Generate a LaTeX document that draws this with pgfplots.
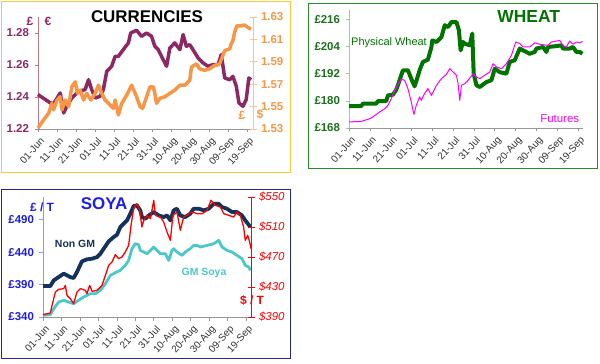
\documentclass[border=0pt]{standalone}
\usepackage{pgfplots}
\pgfplotsset{compat=1.18}
\usepackage{fontspec}
\setmainfont{Liberation Sans}
\definecolor{eur}{RGB}{140,40,100}
\definecolor{eurax}{RGB}{190,120,130}
\definecolor{usd}{RGB}{247,150,70}
\definecolor{usdax}{RGB}{250,195,150}
\definecolor{curborder}{RGB}{250,200,60}
\definecolor{whtdark}{RGB}{0,115,0}
\definecolor{whtlab}{RGB}{30,110,30}
\definecolor{whtax}{RGB}{150,210,150}
\definecolor{whtborder}{RGB}{40,140,40}
\definecolor{fut}{RGB}{255,0,255}
\definecolor{navy}{RGB}{20,50,90}
\definecolor{gmteal}{RGB}{75,200,200}
\definecolor{soyblue}{RGB}{30,30,230}
\definecolor{soyax}{RGB}{150,150,240}
\definecolor{soyborder}{RGB}{40,40,130}
\definecolor{soyred}{RGB}{255,0,0}
\definecolor{axgray}{RGB}{150,150,150}
\definecolor{labgray}{RGB}{50,50,50}
\pgfplotsset{
  dates/.style={
    scale only axis, anchor=south west, xmin=0,
    xtick={0,10,...,110},
    xticklabels={01-Jun,11-Jun,21-Jun,01-Jul,11-Jul,21-Jul,31-Jul,10-Aug,20-Aug,30-Aug,09-Sep,19-Sep},
    xticklabel style={rotate=48, anchor=north east, font=\fontsize{10}{11}\selectfont, text=labgray, inner sep=1pt, yshift=-3bp, xshift=-1bp},
    axis x line*=bottom, axis y line*=left,
    axis line style={-},
    x axis line style={axgray},
    xtick style={axgray, line width=0.6bp},
    major tick length=3.5bp,
    tick align=outside,
    clip=false,
  },
  rightax/.style={
    scale only axis, anchor=south west, xmin=0,
    hide x axis, axis y line*=right,
    axis line style={-},
    tick align=center, major tick length=7bp,
    clip=false,
  },
}
\begin{document}
\begin{tikzpicture}[x=1bp,y=1bp]
\useasboundingbox (0,0) rectangle (600,363);
\fill[white] (0,0) rectangle (600,363);
% panel borders
\draw[curborder, line width=1bp] (1.5,191) rectangle (290.5,361.5);
\draw[whtborder, line width=1bp] (308,194.7) rectangle (597.7,359);
\draw[soyborder, line width=1bp] (1.5,4.7) rectangle (290,173.5);

% ================= CURRENCIES =================
\begin{axis}[dates, at={(38bp,234bp)}, width=215bp, height=112bp,
  xmax=113.2, ymin=1.22, ymax=1.29,
  ytick={1.22,1.24,1.26,1.28}, yticklabels={1.22,1.24,1.26,1.28},
  y axis line style={eurax}, ytick style={eurax, line width=0.6bp},
  yticklabel style={font=\fontsize{11.5}{12}\selectfont\bfseries, text=eur, xshift=-2bp},
]
\addplot[eur, line width=3.5bp, line join=round] coordinates {
(0,1.2415)(6.5,1.2363)(8.2,1.2358)(11.7,1.2425)(13.5,1.2300)(15.2,1.2342)(17.8,1.2394)(21.3,1.2435)(24.8,1.2446)(26.6,1.2508)(28.3,1.2446)(30.1,1.2394)(32.7,1.2404)(34.4,1.2446)(36.2,1.2560)(38.8,1.2592)(40.6,1.2654)(42.3,1.2654)(44.9,1.2696)(47.6,1.2738)(48.8,1.2800)(51.9,1.2817)(54.5,1.2779)(57.2,1.2800)(59.8,1.2779)(61.5,1.2717)(63.3,1.2696)(65.9,1.2633)(67.7,1.2592)(69.4,1.2706)(72.0,1.2738)(74.7,1.2696)(76.4,1.2790)(78.1,1.2717)(79.9,1.2727)(81.6,1.2696)(84.3,1.2644)(86.9,1.2613)(89.5,1.2592)(92.1,1.2602)(94.8,1.2602)(96.5,1.2665)(98.3,1.2519)(100.9,1.2508)(102.6,1.2529)(104.4,1.2467)(105.8,1.2363)(107.9,1.2342)(109.6,1.2383)(111.0,1.2519)(112.2,1.2508)
};
\end{axis}
\begin{axis}[rightax, at={(38bp,234bp)}, width=215bp, height=112bp,
  xmax=113.2, ymin=1.53, ymax=1.63,
  ytick={1.53,1.55,1.57,1.59,1.61,1.63}, yticklabels={1.53,1.55,1.57,1.59,1.61,1.63},
  y axis line style={usdax}, ytick style={usdax, line width=0.6bp},
  yticklabel style={font=\fontsize{11.5}{12}\selectfont\bfseries, text=usd, xshift=1bp},
]
\addplot[usd, line width=3.5bp, line join=round] coordinates {
(0,1.5309)(3.0,1.5382)(5.6,1.5441)(7.3,1.5529)(8.2,1.5471)(10.0,1.5559)(11.7,1.5588)(12.6,1.5471)(14.3,1.5559)(16.1,1.5500)(17.8,1.5676)(19.6,1.5721)(20.8,1.5618)(22.2,1.5647)(24.0,1.5559)(25.7,1.5618)(27.8,1.5559)(30.1,1.5618)(31.8,1.5691)(33.6,1.5618)(35.3,1.5559)(37.9,1.5515)(39.7,1.5485)(40.6,1.5559)(42.3,1.5426)(44.1,1.5529)(46.7,1.5603)(49.3,1.5691)(51.9,1.5588)(53.7,1.5500)(55.1,1.5485)(57.2,1.5588)(58.9,1.5676)(60.7,1.5676)(61.5,1.5618)(62.4,1.5529)(64.2,1.5574)(66.8,1.5588)(69.4,1.5618)(72.0,1.5647)(74.7,1.5691)(77.3,1.5691)(79.9,1.5735)(80.8,1.5853)(83.4,1.5882)(85.1,1.5838)(87.8,1.5824)(90.4,1.5838)(93.0,1.5868)(95.6,1.5882)(97.0,1.5941)(98.3,1.6000)(100.9,1.6015)(101.7,1.6059)(102.6,1.6088)(103.5,1.6162)(104.7,1.6221)(107.0,1.6221)(108.7,1.6229)(110.5,1.6206)(112.2,1.6191)
};
\end{axis}
\node[font=\fontsize{17}{18}\selectfont\bfseries] at (147,346.2) {CURRENCIES};
\node[font=\fontsize{12}{12}\selectfont\bfseries, text=eur] at (30,342) {£};
\node[font=\fontsize{12}{12}\selectfont\bfseries, text=eur] at (48,342) {€};
\node[font=\fontsize{12}{12}\selectfont\bfseries, text=usd] at (242,248) {£};
\node[font=\fontsize{12}{12}\selectfont\bfseries, text=usd] at (260,248) {\$};

% ================= WHEAT =================
\begin{axis}[dates, at={(349bp,235bp)}, width=234bp, height=117.7bp,
  xmax=112.4, ymin=168, ymax=220,
  ytick={168,180,192,204,216}, yticklabels={£168,£180,£192,£204,£216},
  y axis line style={whtax}, ytick style={whtax, line width=0.6bp},
  yticklabel style={font=\fontsize{11.5}{12}\selectfont\bfseries, text=whtlab, xshift=-2bp},
]
\addplot[whtdark, line width=4bp, line join=round] coordinates {
(0,177.7)(5.9,177.7)(6.7,178.8)(13.1,178.8)(13.9,179.9)(17.9,179.9)(18.7,182.4)(21.1,182.7)(22.7,184.9)(24.3,189.1)(25.9,193.5)(28.3,193.5)(29.9,189.8)(31.5,186.4)(32.7,189.8)(33.9,193.5)(35.5,197.2)(37.9,198.2)(39.6,203.8)(40.0,206.7)(42.0,206.0)(44.4,208.2)(46.0,213.4)(47.6,212.6)(49.2,214.8)(51.6,214.8)(52.8,211.2)(53.6,202.3)(54.8,206.0)(55.6,205.3)(58.0,204.5)(59.2,209.7)(59.9,192.0)(61.2,186.9)(62.8,186.1)(66.0,188.3)(68.4,189.1)(70.0,194.2)(72.4,192.7)(75.6,192.0)(77.2,197.2)(79.6,197.9)(82.0,203.1)(83.6,202.3)(86.8,200.8)(89.2,201.6)(90.0,203.1)(93.2,203.8)(94.8,201.6)(95.6,203.8)(98.8,204.1)(102.0,204.5)(102.8,203.1)(106.0,203.1)(107.6,203.8)(109.2,201.6)(110.8,201.6)(112.1,200.8)
};
\addplot[fut, line width=1bp, line join=round] coordinates {
(0,170.7)(5.9,170.9)(7.5,171.4)(9.9,172.1)(11.5,172.9)(14.7,175.1)(17.1,176.5)(18.7,178.0)(20.3,181.0)(22.7,186.1)(25.1,189.5)(26.7,189.1)(28.3,185.4)(29.9,179.5)(31.2,174.0)(32.3,178.0)(33.9,181.7)(34.7,180.2)(36.3,183.2)(37.9,185.4)(39.6,182.4)(42.0,186.9)(44.4,189.8)(46.8,191.7)(48.4,194.2)(50.0,192.7)(51.6,191.3)(52.4,187.6)(53.2,180.2)(54.0,186.9)(55.6,187.6)(57.2,189.1)(59.6,192.0)(61.2,190.5)(62.8,189.8)(65.2,191.3)(67.6,192.7)(69.2,196.4)(70.8,195.0)(73.2,194.2)(75.6,196.4)(78.0,200.1)(80.1,206.0)(82.0,205.3)(83.6,203.8)(86.8,203.8)(89.2,205.6)(91.6,205.0)(95.6,204.5)(97.2,206.0)(101.2,206.7)(102.8,204.5)(104.4,203.8)(106.0,206.4)(107.6,205.0)(109.2,206.0)(110.8,205.6)(112.1,206.3)
};
\end{axis}
\node[font=\fontsize{17.5}{18}\selectfont\bfseries, text=whtdark] at (528.7,346.3) {WHEAT};
\node[font=\fontsize{11}{12}\selectfont, text=whtdark] at (389,320.7) {Physical Wheat};
\node[font=\fontsize{11.5}{12}\selectfont, text=fut] at (559.7,244) {Futures};

% ================= SOYA =================
\begin{axis}[dates, at={(43bp,46bp)}, width=208bp, height=120bp,
  xmax=112.7, ymin=340, ymax=525,
  ytick={340,390,440,490}, yticklabels={£340,£390,£440,£490},
  y axis line style={soyax}, ytick style={soyax, line width=0.6bp},
  yticklabel style={font=\fontsize{11.5}{12}\selectfont\bfseries, text=soyblue, xshift=-2bp},
]
\addplot[navy, line width=3.8bp, line join=round] coordinates {
(0,387.8)(4.0,387.8)(5.8,396.5)(8.5,401.6)(11.2,406.8)(13.0,404.2)(14.8,401.6)(16.6,400.1)(18.4,409.3)(21.1,425.8)(23.8,428.9)(26.6,429.9)(29.3,432.4)(31.1,437.6)(32.9,445.3)(35.6,456.6)(38.3,463.3)(40.1,466.9)(41.9,478.7)(45.5,488.9)(47.3,499.2)(49.1,511.0)(50.9,512.1)(52.7,504.4)(53.6,494.1)(55.5,491.5)(57.3,496.6)(60.0,501.8)(62.7,496.6)(65.4,494.1)(67.2,496.6)(69.0,488.9)(70.8,504.4)(72.6,506.9)(74.4,496.6)(77.1,494.1)(79.8,499.2)(81.6,506.9)(84.4,506.9)(87.1,504.4)(89.8,506.9)(92.5,514.6)(95.2,514.6)(97.0,509.5)(99.7,506.9)(102.4,501.8)(105.1,501.8)(107.8,496.6)(109.6,488.9)(112.4,478.7)
};
\addplot[gmteal, line width=2.8bp, line join=round] coordinates {
(0,342.6)(4.0,343.6)(5.8,352.8)(8.5,363.1)(11.2,365.7)(13.9,363.1)(16.6,360.5)(19.3,365.7)(22.0,370.8)(25.7,376.0)(28.4,376.0)(31.1,381.1)(33.8,391.4)(36.5,404.2)(39.2,408.3)(41.9,411.9)(44.6,419.6)(46.4,427.3)(48.2,445.3)(50.0,453.0)(51.8,451.5)(52.7,442.7)(54.6,440.2)(56.4,437.6)(58.2,442.7)(60.0,447.9)(61.8,442.7)(63.6,437.6)(66.3,437.6)(68.1,427.3)(69.9,442.7)(70.8,445.3)(72.6,440.2)(75.3,435.0)(77.1,440.2)(79.8,445.3)(81.6,450.4)(83.5,450.4)(85.3,447.9)(88.9,450.4)(92.5,453.0)(95.2,458.1)(97.0,447.9)(99.7,442.7)(102.4,440.2)(105.1,435.0)(107.8,429.9)(109.6,419.6)(111.5,417.0)(112.4,411.9)
};
\end{axis}
\begin{axis}[rightax, at={(43bp,46bp)}, width=208bp, height=120bp,
  xmax=112.7, ymin=390, ymax=550,
  ytick={390,430,470,510,550}, yticklabels={\$390,\$430,\$470,\$510,\$550},
  y axis line style={soyred}, ytick style={soyred, line width=0.8bp},
  yticklabel style={font=\fontsize{11.5}{12}\selectfont\itshape, text=soyred, xshift=1bp},
]
\addplot[soyred, line width=1.3bp, line join=round] coordinates {
(0,393.1)(4.0,395.3)(4.9,405.6)(6.7,423.3)(8.5,426.9)(11.2,427.8)(12.1,432.2)(13.0,418.9)(14.8,414.4)(16.6,407.8)(18.4,423.3)(20.2,427.8)(22.9,425.6)(23.8,421.1)(25.3,432.2)(26.6,424.2)(29.3,425.6)(32.0,432.2)(33.8,445.6)(35.6,458.9)(37.4,463.3)(39.2,473.1)(41.0,467.8)(42.8,470.0)(44.6,476.7)(46.4,485.6)(47.7,512.2)(49.1,534.4)(50.9,541.1)(52.4,532.2)(53.6,510.0)(54.6,518.9)(56.4,525.6)(58.2,521.1)(60.0,545.6)(60.9,525.6)(63.6,523.3)(65.4,516.7)(67.2,503.3)(69.0,492.2)(70.4,525.6)(72.6,530.0)(74.4,505.6)(76.2,523.3)(78.0,525.6)(80.7,530.0)(83.5,527.8)(86.2,527.8)(88.9,532.2)(91.0,545.6)(93.4,538.9)(96.1,536.7)(97.9,527.8)(100.6,525.6)(103.3,523.3)(105.1,530.0)(106.9,525.6)(108.7,510.0)(109.6,492.2)(110.9,498.9)(112.0,490.0)(112.7,481.1)
};
\end{axis}
\node[font=\fontsize{17}{18}\selectfont\bfseries, text=soyblue] at (104,159.2) {SOYA};
\node[font=\fontsize{12}{12}\selectfont\bfseries, text=soyblue] at (42,155.3) {£ / T};
\node[font=\fontsize{10.5}{12}\selectfont\bfseries, text=navy] at (75,118.7) {Non GM};
\node[font=\fontsize{10.5}{12}\selectfont\bfseries, text=gmteal] at (204,89.7) {GM Soya};
\node[font=\fontsize{12}{12}\selectfont\bfseries, text=soyred] at (252,62) {\$ / T};
\end{tikzpicture}
\end{document}
